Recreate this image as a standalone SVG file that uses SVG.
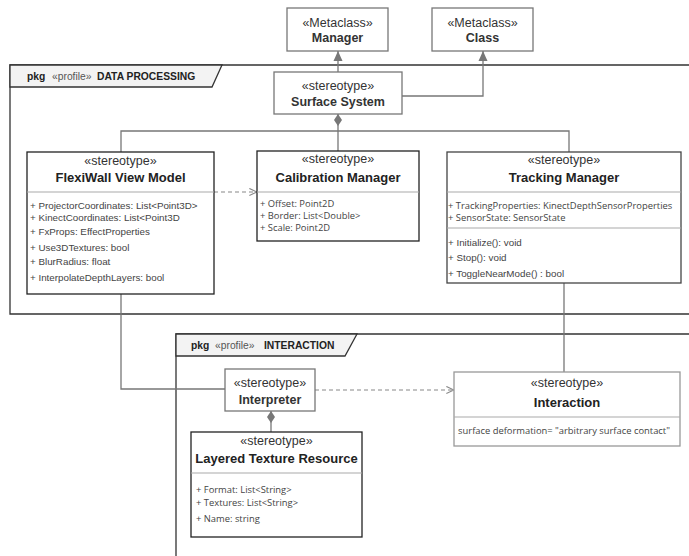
<svg xmlns="http://www.w3.org/2000/svg" width="689" height="556" viewBox="0 0 689 556">
  <defs>
    <marker id="ext" viewBox="0 0 10 10" refX="10" refY="5" markerWidth="10" markerHeight="10" markerUnits="userSpaceOnUse" orient="auto">
      <path d="M0,0.5 L10,5 L0,9.5 Z" fill="#777"/>
    </marker>
    <marker id="open" viewBox="0 0 10 10" refX="9.5" refY="5" markerWidth="9" markerHeight="9" markerUnits="userSpaceOnUse" orient="auto">
      <path d="M1,1 L9.5,5 L1,9" fill="none" stroke="#888" stroke-width="1.2"/>
    </marker>
    <marker id="comp" viewBox="0 0 12 8" refX="12" refY="4" markerWidth="12" markerHeight="8" markerUnits="userSpaceOnUse" orient="auto">
      <path d="M0,4 L6,0 L12,4 L6,8 Z" fill="#777"/>
    </marker>
  </defs>
  <style>
    text { font-family: "Liberation Sans", Arial, sans-serif; fill: #333; }
    .st { font-size: 12.5px; text-anchor: middle; }
    .tt { font-size: 12.5px; font-weight: bold; text-anchor: middle; }
    .tc { font-size: 13px; font-weight: bold; text-anchor: middle; fill: #222; }
    .at { font-size: 9.8px; fill: #444; }
    .ao { font-family: "Open Sans", "Noto Sans", sans-serif; font-size: 9.4px; fill: #444; }
    .pk { font-size: 10.3px; }
    .pb { font-weight: bold; fill: #222; }
    .pp { fill: #555; }
    .frame { fill: none; stroke: #333; stroke-width: 1.3; }
    .tab { fill: #f3f3f3; stroke: #333; stroke-width: 1.3; }
    .bx { fill: #fff; stroke: #777; stroke-width: 1.3; }
    .bk { fill: #fff; stroke: #222; stroke-width: 1.3; }
    .bd { fill: #fff; stroke: #444; stroke-width: 1.3; }
    .bl { fill: #fff; stroke: #999; stroke-width: 1.3; }
    .sep { stroke: #aaa; stroke-width: 1.2; }
    .ln { fill: none; stroke: #777; stroke-width: 1.3; }
    .dash { fill: none; stroke: #888; stroke-width: 1.2; stroke-dasharray: 4 3; }
  </style>

  <!-- package frames -->
  <g id="pkg-data-processing">
    <path class="frame" d="M700,65 H10 V314 H700"/>
    <path class="tab" d="M10,65 H222 L212,87 H10 Z"/>
    <text class="pk" x="27" y="80"><tspan class="pb">pkg</tspan><tspan class="pp" x="52">«profile»</tspan><tspan class="pb" x="97">DATA PROCESSING</tspan></text>
  </g>
  <g id="pkg-interaction">
    <path class="frame" d="M700,334 H176 V560"/>
    <path class="tab" d="M176,334 H357 L345,356 H176 Z"/>
    <text class="pk" x="191" y="349"><tspan class="pb">pkg</tspan><tspan class="pp" x="215">«profile»</tspan><tspan class="pb" x="264">INTERACTION</tspan></text>
  </g>

  <!-- connectors -->
  <g id="connectors">
    <path class="ln" d="M338,72 V51" marker-end="url(#ext)"/>
    <path class="ln" d="M402,96 H483 V51" marker-end="url(#ext)"/>
    <path class="ln" d="M338,131 V114" marker-end="url(#comp)"/>
    <path class="ln" d="M338,151 V131"/>
    <path class="ln" d="M121,152 V131 H569 V152"/>
    <path class="dash" d="M214,192 H257" marker-end="url(#open)"/>
    <path class="ln" d="M121,294 V389 H225"/>
    <path class="ln" d="M564,283 V372"/>
    <path class="dash" d="M315,390 H454" marker-end="url(#open)"/>
    <path class="ln" d="M271,432 V411" marker-end="url(#comp)"/>
  </g>

  <!-- metaclasses -->
  <g id="manager">
    <rect class="bx" x="287" y="8" width="101" height="43"/>
    <text class="st" x="337.5" y="27">«Metaclass»</text>
    <text class="tt" x="337.5" y="42">Manager</text>
  </g>
  <g id="class">
    <rect class="bx" x="432" y="8" width="101" height="43"/>
    <text class="st" x="482.5" y="27">«Metaclass»</text>
    <text class="tt" x="482.5" y="42">Class</text>
  </g>

  <!-- stereotypes -->
  <g id="surface-system">
    <rect class="bx" x="274" y="72" width="128" height="42"/>
    <text class="st" x="338" y="90">«stereotype»</text>
    <text class="tt" x="338" y="106">Surface System</text>
  </g>

  <g id="flexiwall-view-model">
    <rect class="bk" x="27" y="152" width="187" height="142"/>
    <line class="sep" x1="27" y1="192" x2="214" y2="192"/>
    <text class="st" x="120.5" y="165">«stereotype»</text>
    <text class="tc" x="120.5" y="182">FlexiWall View Model</text>
    <text class="at" x="30" y="208.5">+ ProjectorCoordinates: List&lt;Point3D&gt;</text>
    <text class="at" x="30" y="220.5">+ KinectCoordinates: List&lt;Point3D</text>
    <text class="at" x="30" y="234.5">+ FxProps: EffectProperties</text>
    <text class="at" x="30" y="250.5">+ Use3DTextures: bool</text>
    <text class="at" x="30" y="264.5">+ BlurRadius: float</text>
    <text class="at" x="30" y="280.5">+ InterpolateDepthLayers: bool</text>
  </g>

  <g id="calibration-manager">
    <rect class="bk" x="257" y="151" width="162" height="90"/>
    <line class="sep" x1="257" y1="192" x2="419" y2="192"/>
    <text class="st" x="338" y="163">«stereotype»</text>
    <text class="tc" x="338" y="182">Calibration Manager</text>
    <text class="ao" x="260" y="207">+ Offset: Point2D</text>
    <text class="ao" x="260" y="219">+ Border: List&lt;Double&gt;</text>
    <text class="ao" x="260" y="231">+ Scale: Point2D</text>
  </g>

  <g id="tracking-manager">
    <rect class="bd" x="447" y="152" width="234" height="131"/>
    <line class="sep" x1="447" y1="192" x2="681" y2="192"/>
    <line class="sep" x1="447" y1="228" x2="681" y2="228"/>
    <text class="st" x="564" y="164">«stereotype»</text>
    <text class="tc" x="564" y="182">Tracking Manager</text>
    <text class="ao" x="448" y="209">+ TrackingProperties: KinectDepthSensorProperties</text>
    <text class="ao" x="448" y="220.5">+ SensorState: SensorState</text>
    <text class="at" x="448" y="246">+ Initialize(): void</text>
    <text class="at" x="448" y="261">+ Stop(): void</text>
    <text class="at" x="448" y="277">+ ToggleNearMode() : bool</text>
  </g>

  <g id="interpreter">
    <rect class="bx" x="225" y="369" width="90" height="42"/>
    <text class="st" x="270" y="387">«stereotype»</text>
    <text class="tt" x="270" y="403.5">Interpreter</text>
  </g>

  <g id="interaction">
    <rect class="bl" x="454" y="372" width="226" height="74"/>
    <line class="sep" x1="454" y1="417" x2="680" y2="417"/>
    <text class="st" x="567" y="387">«stereotype»</text>
    <text class="tc" x="567" y="406.5">Interaction</text>
    <text class="ao" x="564" y="434" text-anchor="middle">surface deformation= "arbitrary surface contact"</text>
  </g>

  <g id="layered-texture-resource">
    <rect class="bk" x="191" y="432" width="171" height="105"/>
    <line class="sep" x1="191" y1="473" x2="362" y2="473"/>
    <text class="st" x="276.5" y="445">«stereotype»</text>
    <text class="tc" x="276.5" y="462.5">Layered Texture Resource</text>
    <text class="ao" x="196" y="493">+ Format: List&lt;String&gt;</text>
    <text class="ao" x="196" y="506">+ Textures: List&lt;String&gt;</text>
    <text class="ao" x="196" y="522">+ Name: string</text>
  </g>
</svg>
